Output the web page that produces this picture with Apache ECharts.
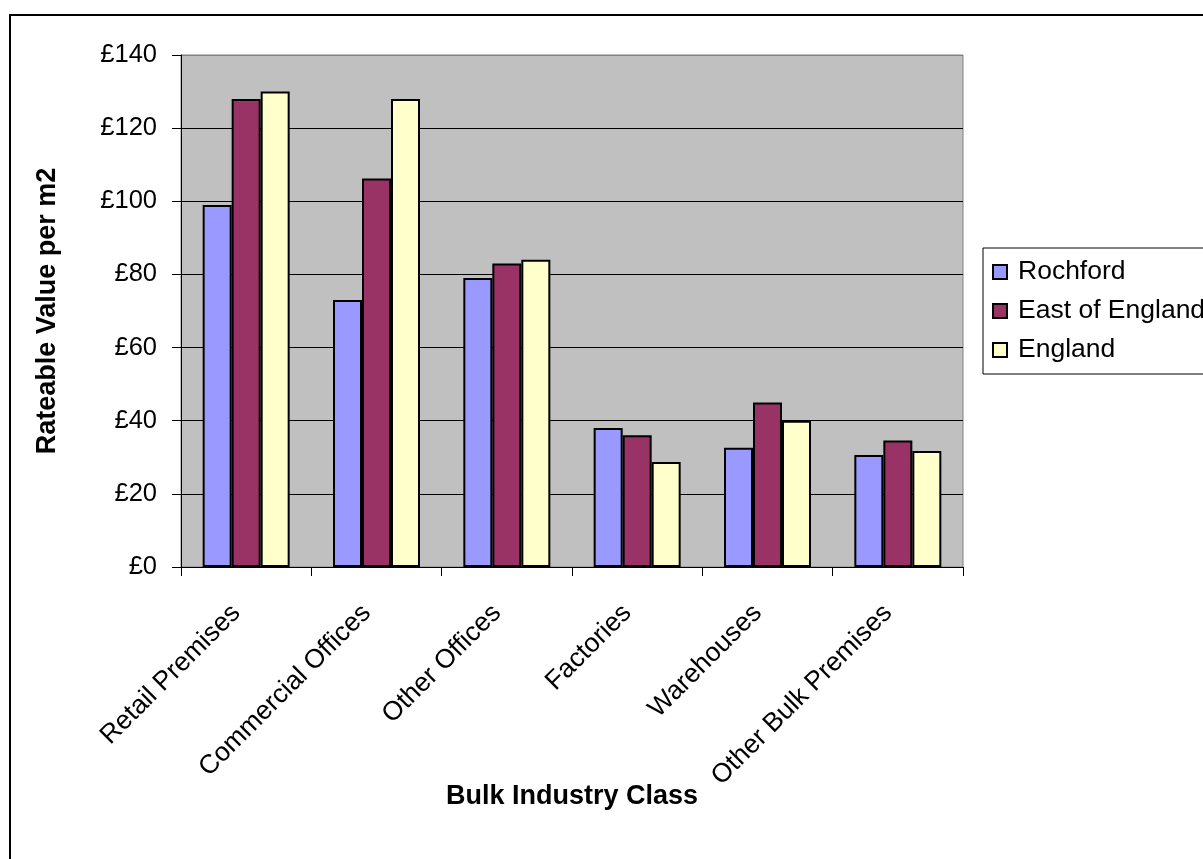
<!DOCTYPE html>
<html>
<head>
<meta charset="utf-8">
<script src="https://cdn.jsdelivr.net/npm/echarts@6/dist/echarts.min.js"></script>
<style>
html,body{margin:0;padding:0;background:#fff;}
#chart{width:1203px;height:859px;}
</style>
</head>
<body>
<div id="chart"></div>
<script>
const categories = ['Retail Premises','Commercial Offices','Other Offices','Factories','Warehouses','Other Bulk Premises'];
const rochford = [99, 73, 79, 38, 32.6, 30.6];
const eastOfEngland = [128, 106.2, 83, 36, 45, 34.6];
const england = [130, 128, 84, 28.7, 40, 31.7];
const yTicks = [0, 20, 40, 60, 80, 100, 120, 140];

const FONT = 'Liberation Sans, Arial, sans-serif';
const FS = 26.5;

const chart = echarts.init(document.getElementById('chart'), null, {renderer:'canvas'});

function bar(name, data, color){
  return {
    name, type:'bar', data,
    barWidth: 29, barGap: '0%',
    itemStyle:{color, borderColor:'#000', borderWidth:2},
    emphasis:{disabled:true}
  };
}

chart.setOption({
  animation:false,
  backgroundColor:'#fff',
  textStyle:{fontFamily:FONT},
  graphic:[{
    type:'rect', shape:{x:10, y:15, width:1400, height:1000},
    style:{fill:'none', stroke:'#000', lineWidth:2}, silent:true, z:-1
  }],
  grid:{
    left:181, right:240, top:55, bottom:292,
    show:true, backgroundColor:'#C0C0C0', borderColor:'#808080', borderWidth:1
  },
  legend:{
    orient:'vertical', left:983, top:248,
    padding:[10, 40, 10, 9],
    borderColor:'#000', borderWidth:1, backgroundColor:'#fff',
    itemWidth:14, itemHeight:14, itemGap:11,
    icon:'rect',
    textStyle:{fontFamily:FONT, fontSize:FS, color:'#000', lineHeight:28, padding:[0,0,0,6]},
    data: ['Rochford','East of England','England']
  },
  xAxis:{
    type:'category', data:categories,
    name:'Bulk Industry Class', nameLocation:'middle', nameGap:216, nameMoveOverlap:false,
    nameTextStyle:{fontFamily:FONT, fontSize:27, fontWeight:'bold', color:'#000', verticalAlign:'top'},
    axisLine:{lineStyle:{color:'#000', width:1}},
    axisTick:{show:true, length:9, lineStyle:{color:'#000'}},
    axisLabel:{rotate:45, fontFamily:FONT, fontSize:FS, color:'#000', margin:32, padding:[0,14,0,0], interval:0},
    splitLine:{show:false}
  },
  yAxis:{
    type:'value', min:0, max:140, interval:20,
    name:'Rateable Value per m2', nameLocation:'middle', nameGap:120, nameRotate:90, nameMoveOverlap:false,
    nameTextStyle:{fontFamily:FONT, fontSize:27, fontWeight:'bold', color:'#000', verticalAlign:'bottom'},
    axisLine:{show:true, lineStyle:{color:'#000', width:1}},
    axisTick:{show:true, length:9, lineStyle:{color:'#000'}},
    axisLabel:{fontFamily:FONT, fontSize:25.5, color:'#000', margin:24,
      formatter: v => yTicks.includes(v) ? '£' + v : ''},
    splitLine:{show:true, lineStyle:{color:['#000','#000','#000','#000','#000','#000','#000','#808080'], width:1}}
  },
  series:[
    bar('Rochford', rochford, '#9999FF'),
    bar('East of England', eastOfEngland, '#993366'),
    bar('England', england, '#FFFFCC')
  ]
});
</script>
</body>
</html>
